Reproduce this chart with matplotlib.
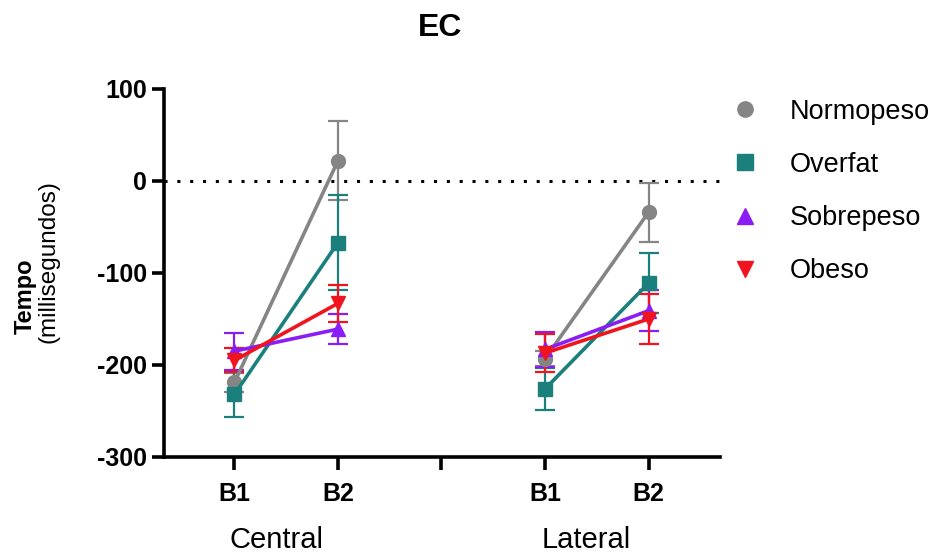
import numpy as np
import matplotlib
matplotlib.use("Agg")
import matplotlib.pyplot as plt
import matplotlib.transforms as mtransforms

plt.rcParams['font.family'] = ['Liberation Sans', 'DejaVu Sans']
plt.rcParams['axes.unicode_minus'] = False

# posiciones: B1/B2 central, separador, B1/B2 lateral
tick_pos = [1, 2, 3, 4, 5]
tick_labels = ['B1', 'B2', '', 'B1', 'B2']
grupos = ['Central', 'Lateral']

series = ['Normopeso', 'Overfat', 'Sobrepeso', 'Obeso']
colores = ['#858585', '#1b807c', '#8a1cf5', '#f0141e']
marcadores = ['o', 's', '^', 'v']

# media y error por serie: [B1, B2]
media_central = {
    'Normopeso': [-219, 22],
    'Overfat': [-232, -67],
    'Sobrepeso': [-185, -161],
    'Obeso': [-195, -133],
}
error_central = {
    'Normopeso': [10, 43],
    'Overfat': [24, 52],
    'Sobrepeso': [20, 16],
    'Obeso': [13, 20],
}
media_lateral = {
    'Normopeso': [-193, -34],
    'Overfat': [-226, -111],
    'Sobrepeso': [-183, -141],
    'Obeso': [-187, -150],
}
error_lateral = {
    'Normopeso': [8, 32],
    'Overfat': [23, 33],
    'Sobrepeso': [19, 22],
    'Obeso': [21, 27],
}

fig = plt.figure(figsize=(9.45, 5.56), dpi=100)
ax = fig.add_axes([164 / 945, 1 - 457 / 556, (720 - 164) / 945, (457 - 89) / 556])

ax.axhline(0, color='black', linestyle=(0, (1, 3.2)), linewidth=2.2, zorder=1)

for nombre, col, mk in zip(series, colores, marcadores):
    for xs, med, err in [([1, 2], media_central, error_central),
                         ([4, 5], media_lateral, error_lateral)]:
        ax.errorbar(xs, med[nombre], yerr=err[nombre], color=col, marker=mk,
                    markersize=10, linewidth=2.6, elinewidth=1.6, capsize=7,
                    capthick=1.6, zorder=3)
    ax.plot([], [], linestyle='none', marker=mk, color=col, markersize=11,
            label=nombre)

ax.set_xlim(0.32, 5.69)
ax.set_ylim(-300, 100)
ax.set_yticks([-300, -200, -100, 0, 100])
ax.set_xticks(tick_pos)
ax.set_xticklabels(tick_labels)
for s in ['top', 'right']:
    ax.spines[s].set_visible(False)
for s in ['left', 'bottom']:
    ax.spines[s].set_linewidth(2.6)
ax.tick_params(axis='both', width=2.6, length=9, labelsize=18)
ax.tick_params(axis='x', pad=9)
for lab in ax.get_xticklabels() + ax.get_yticklabels():
    lab.set_fontweight('bold')

trans = mtransforms.blended_transform_factory(ax.transData, fig.transFigure)
for x, g in zip([1.41, 4.40], grupos):
    ax.text(x, 1 - 540 / 556, g, transform=trans, ha='center', va='center',
            fontsize=21)

fig.text(25 / 945, 1 - 296 / 556, 'Tempo', rotation=90, ha='center',
         va='center', fontsize=17, fontweight='bold')
fig.text(49 / 945, 1 - 262 / 556, '(millisegundos)', rotation=90,
         ha='center', va='center', fontsize=17.5)

fig.text(440 / 945, 1 - 28 / 556, 'EC', ha='center', va='center',
         fontsize=23, fontweight='bold')

ax.legend(loc='upper left', bbox_to_anchor=(721 / 945, 1 - 88 / 556),
          bbox_transform=fig.transFigure, frameon=False, fontsize=19.5,
          borderaxespad=0, handletextpad=1.15, labelspacing=1.0,
          handlelength=1.0)

fig.savefig('out.png', dpi=100)
